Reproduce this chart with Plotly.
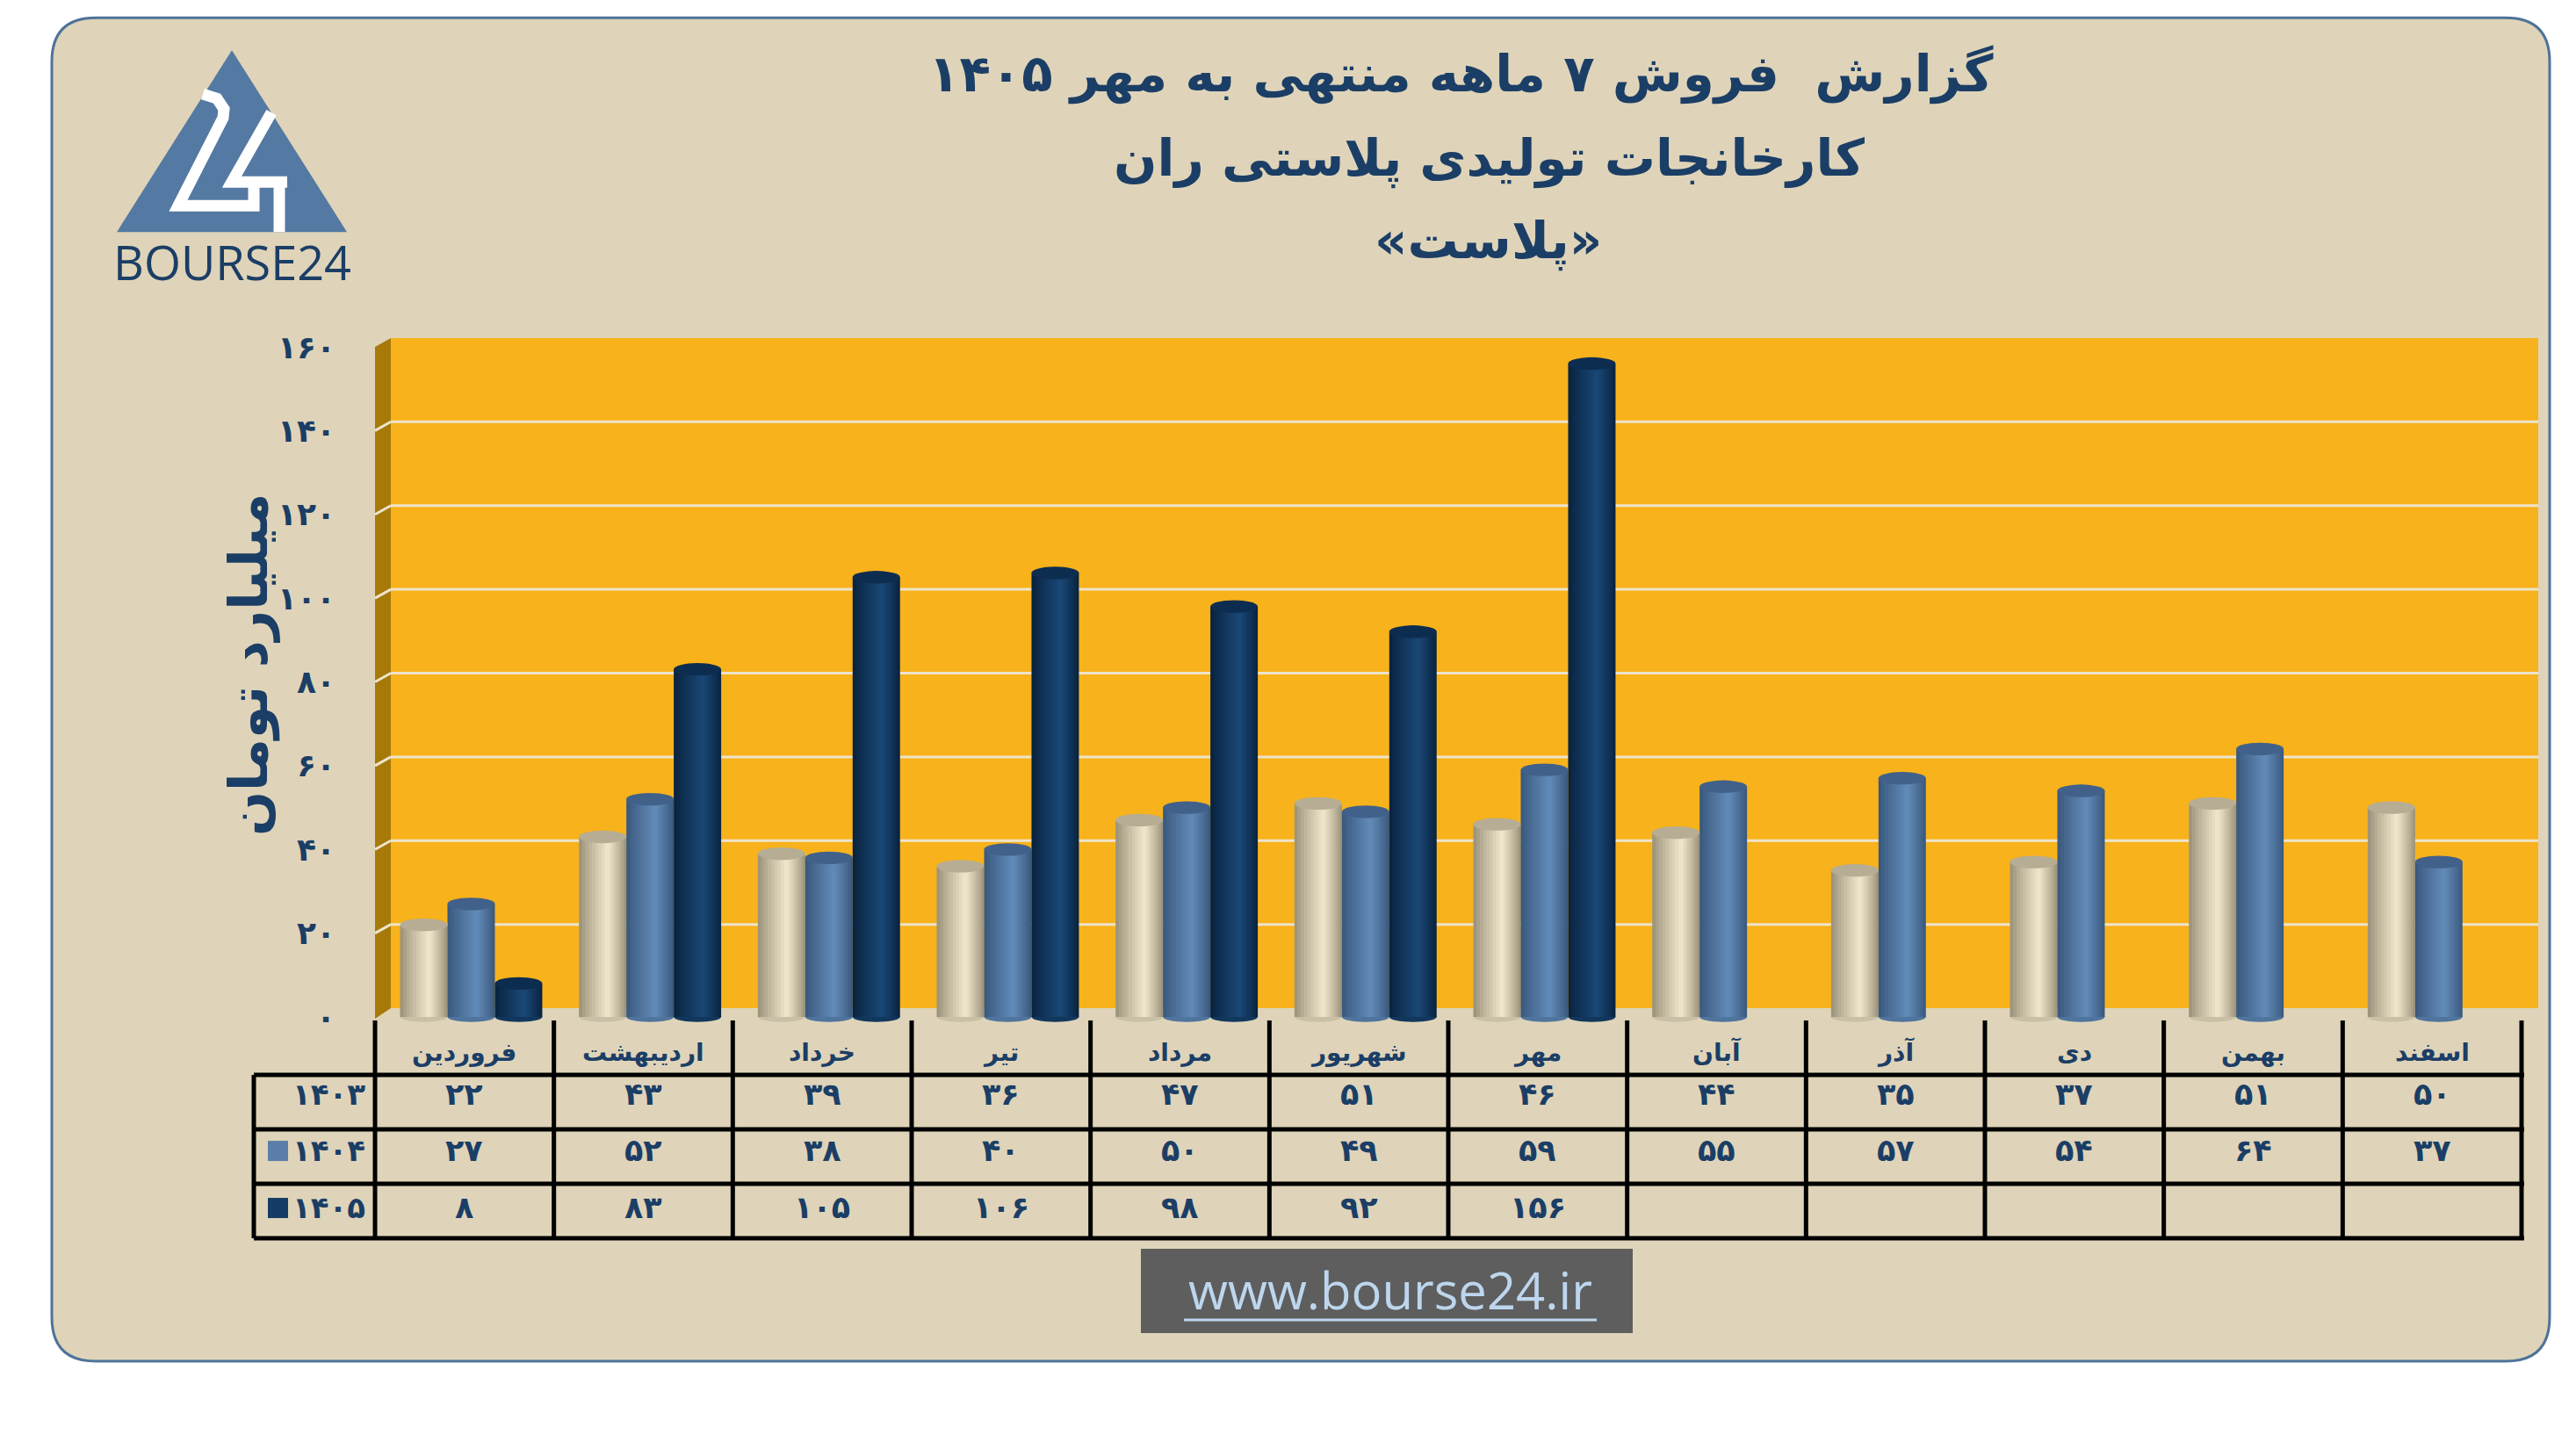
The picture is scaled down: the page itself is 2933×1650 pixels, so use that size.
import plotly.graph_objects as go

# ---------------- data ----------------
months = ['فروردین', 'اردیبهشت', 'خرداد', 'تیر', 'مرداد', 'شهریور',
          'مهر', 'آبان', 'آذر', 'دی', 'بهمن', 'اسفند']
years = [1403, 1404, 1405]
sales_1403 = [22, 43, 39, 36, 47, 51, 46, 44, 35, 37, 51, 50]
sales_1404 = [27, 52, 38, 40, 50, 49, 59, 55, 57, 54, 64, 37]
sales_1405 = [8, 83, 105, 106, 98, 92, 156, None, None, None, None, None]
y_ticks = [0, 20, 40, 60, 80, 100, 120, 140, 160]

title_lines = ['گزارش  فروش ۷ ماهه منتهی به مهر ۱۴۰۵',
               'کارخانجات تولیدی پلاستی ران',
               '«پلاست»']
y_title = 'میلیارد تومان'
site = 'www.bourse24.ir'

FA = str.maketrans('0123456789', '۰۱۲۳۴۵۶۷۸۹')


def fa(v):
    return str(v).translate(FA)


# ---------------- geometry ----------------
FW, FH = 2933, 1650
NAVY = '#1B3E66'
Y0 = 1158.0          # pixel of value 0
K = 4.77             # px per unit
YMIN, YMAX = -2.5, 162.5
L, R = 427.0, 2871.0
T = Y0 - K * YMAX
B = Y0 - K * YMIN
PW, PH = R - L, B - T


def px(x):
    return (x - L) / PW


def py(y):
    return (B - y) / PH


def Ypx(v):
    return Y0 - K * v


def path_px(pts, close=True):
    s = 'M %.5f,%.5f ' % (px(pts[0][0]), py(pts[0][1]))
    for p in pts[1:]:
        s += 'L %.5f,%.5f ' % (px(p[0]), py(p[1]))
    if close:
        s += 'Z'
    return s


def lerp(c1, c2, t):
    a = [int(c1[i:i + 2], 16) for i in (1, 3, 5)]
    b = [int(c2[i:i + 2], 16) for i in (1, 3, 5)]
    return '#%02x%02x%02x' % tuple(round(a[j] + (b[j] - a[j]) * t) for j in range(3))


shapes = []
annots = []

# panel with rounded corners
x0p, x1p, y0p, y1p, rr = 59, 2903, 20, 1550, 50
panel = ('M %.5f,%.5f ' % (px(x0p + rr), py(y0p)) +
         'L %.5f,%.5f ' % (px(x1p - rr), py(y0p)) +
         'Q %.5f,%.5f %.5f,%.5f ' % (px(x1p), py(y0p), px(x1p), py(y0p + rr)) +
         'L %.5f,%.5f ' % (px(x1p), py(y1p - rr)) +
         'Q %.5f,%.5f %.5f,%.5f ' % (px(x1p), py(y1p), px(x1p - rr), py(y1p)) +
         'L %.5f,%.5f ' % (px(x0p + rr), py(y1p)) +
         'Q %.5f,%.5f %.5f,%.5f ' % (px(x0p), py(y1p), px(x0p), py(y1p - rr)) +
         'L %.5f,%.5f ' % (px(x0p), py(y0p + rr)) +
         'Q %.5f,%.5f %.5f,%.5f Z' % (px(x0p), py(y0p), px(x0p + rr), py(y0p)))
shapes.append(dict(type='path', xref='paper', yref='paper', path=panel,
                   fillcolor='#DFD4B9', line=dict(color='#4E7399', width=3), layer='below'))

# back wall + side wall (3D look)
WALL_SHIFT = 2.1
wall_l, wall_r = 445, 2890
shapes.append(dict(type='rect', xref='paper', yref='paper',
                   x0=px(wall_l), x1=px(wall_r),
                   y0=py(Ypx(y_ticks[0] + WALL_SHIFT)), y1=py(Ypx(y_ticks[-1] + WALL_SHIFT)),
                   fillcolor='#F8B21B', line=dict(width=0), layer='below'))
shapes.append(dict(type='path', xref='paper', yref='paper',
                   path=path_px([(L, Ypx(y_ticks[0]) + 2), (wall_l, Ypx(y_ticks[0] + WALL_SHIFT)),
                                 (wall_l, Ypx(y_ticks[-1] + WALL_SHIFT)), (L, Ypx(y_ticks[-1]))]),
                   fillcolor='#A67909', line=dict(width=0), layer='below'))
for v in y_ticks[1:-1]:
    shapes.append(dict(type='line', xref='paper', yref='paper',
                       x0=px(wall_l), x1=px(wall_r),
                       y0=py(Ypx(v + WALL_SHIFT)), y1=py(Ypx(v + WALL_SHIFT)),
                       line=dict(color='#EEE4CC', width=3), layer='below'))
    shapes.append(dict(type='line', xref='paper', yref='paper',
                       x0=px(L), x1=px(wall_l),
                       y0=py(Ypx(v)), y1=py(Ypx(v + WALL_SHIFT)),
                       line=dict(color='#EEE4CC', width=3), layer='below'))

# ---------------- bars (cylinders) ----------------
series = [sales_1403, sales_1404, sales_1405]
offsets = [-0.36, -0.095, 0.17]
BW = 0.265
edge_c = ['#9E957D', '#3B5A7F', '#0A2440']
hi_c = ['#EEE4C9', '#6089B6', '#194674']
top_c = ['#B6AD94', '#41618A', '#0D2D50']
NL = 9
fig = go.Figure()
cpos, hw = 0.6 * BW, 0.05 * BW
for s, vals in enumerate(series):
    for k in range(NL):
        t = k / (NL - 1)
        left = t * (cpos - hw)
        right = BW - t * (BW - cpos - hw)
        fig.add_trace(go.Bar(x=months, y=vals, offset=offsets[s] + left, width=right - left,
                             marker=dict(color=lerp(edge_c[s], hi_c[s], t ** 0.9), line=dict(width=0)),
                             showlegend=False, hoverinfo='skip'))
    for i, v in enumerate(vals):
        if v is None:
            continue
        shapes.append(dict(type='circle', xref='x', yref='y',
                           x0=i + offsets[s], x1=i + offsets[s] + BW, y0=v - 1.5, y1=v + 1.5,
                           fillcolor=top_c[s], line=dict(width=0), layer='above'))
        shapes.append(dict(type='circle', xref='x', yref='y',
                           x0=i + offsets[s], x1=i + offsets[s] + BW, y0=-1.2, y1=1.2,
                           fillcolor=lerp(edge_c[s], hi_c[s], 0.55), line=dict(width=0), layer='below'))

# ---------------- data table ----------------
n = len(months)
colw = PW / n
tab_left = 289
row_y = [1224, 1286, 1348, 1410]
head_top = 1162
LW = 5
for yy in row_y:
    shapes.append(dict(type='line', xref='paper', yref='paper', x0=px(tab_left), x1=px(R + 3),
                       y0=py(yy), y1=py(yy), line=dict(color='black', width=LW)))
shapes.append(dict(type='line', xref='paper', yref='paper', x0=px(tab_left), x1=px(tab_left),
                   y0=py(row_y[0]), y1=py(row_y[-1]), line=dict(color='black', width=LW)))
for i in range(n + 1):
    xx = L + i * colw
    shapes.append(dict(type='line', xref='paper', yref='paper', x0=px(xx), x1=px(xx),
                       y0=py(head_top), y1=py(row_y[-1]), line=dict(color='black', width=LW)))

for i, m in enumerate(months):
    annots.append(dict(x=px(L + (i + 0.5) * colw), y=py(1198), xref='paper', yref='paper',
                       text=m, showarrow=False, xanchor='center', yanchor='middle',
                       font=dict(family='DejaVu Sans', size=28, color=NAVY, weight='bold')))
text_y = [1246, 1310, 1375]
for r, vals in enumerate(series):
    annots.append(dict(x=px(418), y=py(text_y[r]), xref='paper', yref='paper',
                       text=fa(years[r]), showarrow=False, xanchor='right', yanchor='middle',
                       font=dict(family='DejaVu Sans', size=34, color=NAVY, weight='bold')))
    for i, v in enumerate(vals):
        if v is None:
            continue
        annots.append(dict(x=px(L + (i + 0.5) * colw), y=py(text_y[r]), xref='paper', yref='paper',
                           text=fa(v), showarrow=False, xanchor='center', yanchor='middle',
                           font=dict(family='DejaVu Sans', size=35, color=NAVY, weight='bold')))
legend_sq = [None, '#5B7EA8', '#143C66']
for r in range(3):
    if legend_sq[r] is None:
        continue
    shapes.append(dict(type='rect', xref='paper', yref='paper', x0=px(305), x1=px(328),
                       y0=py(text_y[r] + 12), y1=py(text_y[r] - 11),
                       fillcolor=legend_sq[r], line=dict(width=0)))

# ---------------- titles ----------------
title_pos = [(1663, 84), (1695, 180), (1694, 274)]
for txt, (tx, ty) in zip(title_lines, title_pos):
    annots.append(dict(x=px(tx), y=py(ty), xref='paper', yref='paper', text=txt,
                       showarrow=False, xanchor='center', yanchor='middle',
                       font=dict(family='DejaVu Sans', size=58, color=NAVY, weight='bold')))
annots.append(dict(x=px(283), y=py(757), xref='paper', yref='paper', text=y_title,
                   showarrow=False, textangle=-90, xanchor='center', yanchor='middle',
                   font=dict(family='DejaVu Sans', size=60, color=NAVY, weight='bold')))

# ---------------- logo ----------------
shapes.append(dict(type='path', xref='paper', yref='paper',
                   path=path_px([(264, 57), (395, 264), (133, 264)]),
                   fillcolor='#5479A2', line=dict(width=0)))
shapes.append(dict(type='path', xref='paper', yref='paper',
                   path=path_px([(231, 107), (247, 112), (255, 124), (254, 134), (203, 234),
                                 (289, 234), (289, 207)], close=False),
                   line=dict(color='white', width=13)))
shapes.append(dict(type='path', xref='paper', yref='paper',
                   path=path_px([(309, 128), (264, 207), (327, 207)], close=False),
                   line=dict(color='white', width=13)))
shapes.append(dict(type='line', xref='paper', yref='paper', x0=px(318), x1=px(318),
                   y0=py(207), y1=py(264), line=dict(color='white', width=13)))
annots.append(dict(x=px(264), y=py(298), xref='paper', yref='paper', text='BOURSE24',
                   showarrow=False, xanchor='center', yanchor='middle',
                   font=dict(family='Open Sans', size=54, color=NAVY)))

# ---------------- website box ----------------
shapes.append(dict(type='rect', xref='paper', yref='paper', x0=px(1299), x1=px(1859),
                   y0=py(1518), y1=py(1422), fillcolor='#5E5E5E', line=dict(width=0)))
shapes.append(dict(type='line', xref='paper', yref='paper', x0=px(1348), x1=px(1818),
                   y0=py(1503), y1=py(1503), line=dict(color='#BDD6EE', width=3)))
annots.append(dict(x=px(1583), y=py(1468), xref='paper', yref='paper', text=site,
                   showarrow=False, xanchor='center', yanchor='middle',
                   font=dict(family='Open Sans', size=58, color='#BDD6EE')))

fig.update_layout(
    width=FW, height=FH, barmode='overlay',
    paper_bgcolor='white', plot_bgcolor='rgba(0,0,0,0)',
    margin=dict(l=L, r=FW - R, t=T, b=FH - B, pad=0),
    shapes=shapes, annotations=annots, showlegend=False,
    xaxis=dict(type='category', categoryorder='array', categoryarray=months,
               range=[-0.5, n - 0.5], showticklabels=False, showgrid=False,
               zeroline=False, showline=False, ticks=''),
    yaxis=dict(range=[YMIN, YMAX], tickvals=y_ticks, ticktext=[fa(v) for v in y_ticks],
               showgrid=False, zeroline=False, showline=False, ticks='',
               ticklabelstandoff=44,
               tickfont=dict(family='DejaVu Sans', size=36, color=NAVY, weight='bold')),
)

fig.write_html('out.html')
